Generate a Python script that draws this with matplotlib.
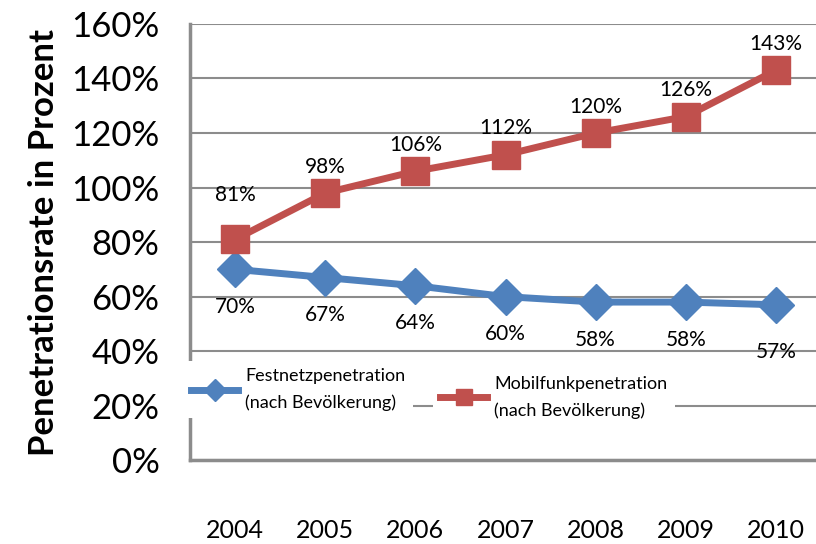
import numpy as np
import matplotlib.pyplot as plt

plt.rcParams['font.family'] = ['Lato', 'DejaVu Sans']

years = ['2004', '2005', '2006', '2007', '2008', '2009', '2010']
festnetz = [70, 67, 64, 60, 58, 58, 57]
mobilfunk = [81, 98, 106, 112, 120, 126, 143]
yticks = [0, 20, 40, 60, 80, 100, 120, 140, 160]

blue = '#4F81BD'
red = '#C0504D'
grey = '#8C8C8C'

fig = plt.figure(figsize=(8.16, 5.44), dpi=100)
ax = fig.add_axes([0.233, 0.154, 0.773, 0.802])

x = np.arange(len(years))
l1, = ax.plot(x, festnetz, color=blue, lw=5, marker='D', ms=18, zorder=3)
l2, = ax.plot(x, mobilfunk, color=red, lw=5, marker='s', ms=20, zorder=3)

# data labels
for i, v in enumerate(festnetz):
    off = -34 if i == len(festnetz) - 1 else -27
    ax.annotate('%d%%' % v, (x[i], v), xytext=(0, off), textcoords='offset points',
                ha='center', va='center', fontsize=15)
for i, v in enumerate(mobilfunk):
    off = 32 if i == 0 else 19
    ax.annotate('%d%%' % v, (x[i], v), xytext=(0, off), textcoords='offset points',
                ha='center', va='center', fontsize=15)

ax.set_xlim(-0.5, len(years) - 0.5)
ax.set_ylim(0, 160)
ax.set_yticks(yticks)
ax.set_yticklabels(['%d%%' % t for t in yticks], fontsize=25)
ax.set_xticks(x)
ax.set_xticklabels(years, fontsize=18)
ax.tick_params(length=0)
ax.tick_params(axis='y', pad=22)
ax.tick_params(axis='x', pad=42)
ax.grid(axis='y', color=grey, lw=1.5)
ax.set_axisbelow(True)
for s in ['top', 'right']:
    ax.spines[s].set_visible(False)
for s in ['left', 'bottom']:
    ax.spines[s].set_color(grey)
    ax.spines[s].set_linewidth(2.5)

ax.set_ylabel('Penetrationsrate in Prozent', fontsize=25, fontweight='bold', labelpad=8)

leg1 = ax.legend([l1], ['Festnetzpenetration\n(nach Bevölkerung)'], loc='upper left',
                 bbox_to_anchor=(-0.01, 0.228), fontsize=13, frameon=True, fancybox=False,
                 borderaxespad=0, handlelength=2.6, handletextpad=0.4, markerscale=0.6)
leg1.get_frame().set_edgecolor('none')
leg1.get_frame().set_facecolor('white')
leg1.get_frame().set_alpha(1)
leg1.get_texts()[0].set_linespacing(1.75)
ax.add_artist(leg1)

leg2 = ax.legend([l2], ['Mobilfunkpenetration\n(nach Bevölkerung)'], loc='upper left',
                 bbox_to_anchor=(0.385, 0.21), fontsize=13, frameon=True, fancybox=False,
                 borderaxespad=0, handlelength=2.6, handletextpad=0.4, markerscale=0.6)
leg2.get_frame().set_edgecolor('none')
leg2.get_frame().set_facecolor('white')
leg2.get_frame().set_alpha(1)
leg2.get_texts()[0].set_linespacing(1.75)

fig.savefig('out.png', dpi=100)
